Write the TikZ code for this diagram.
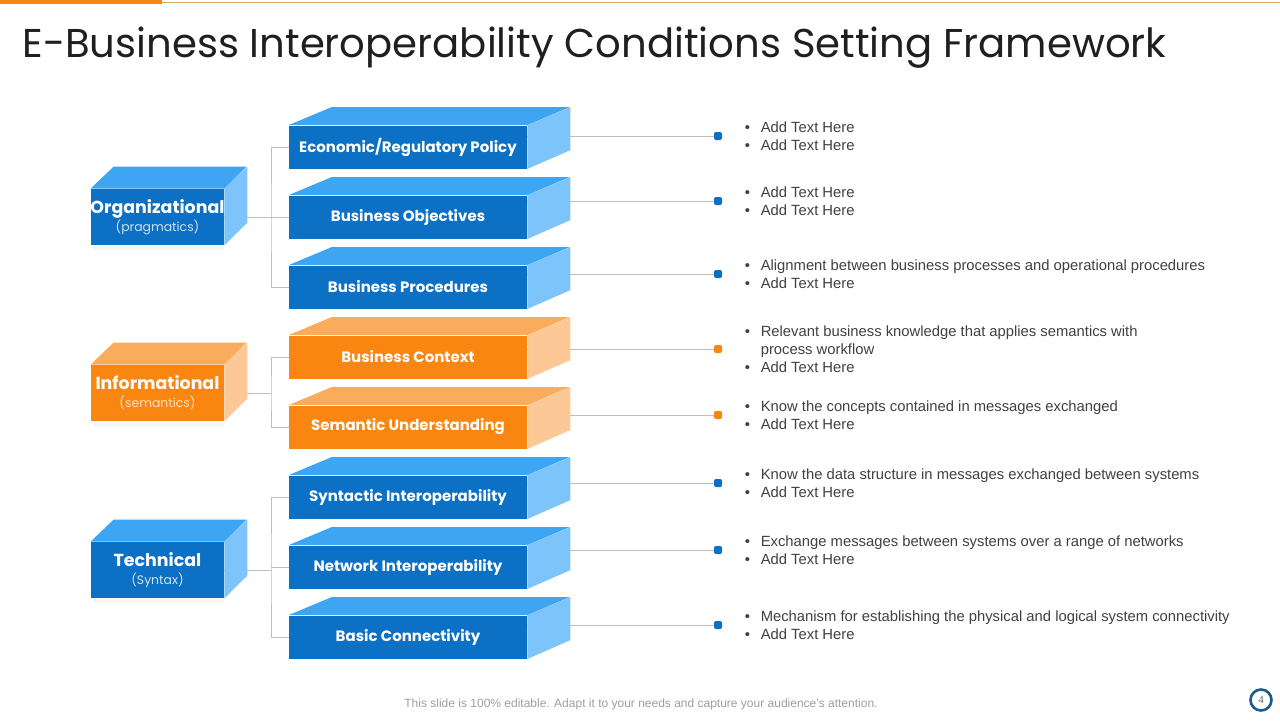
\documentclass[tikz,border=0pt]{standalone}
\usepackage{fontspec}
\setmainfont{Liberation Sans}
\newfontfamily\gothic{Poppins}
\newfontfamily\pageserif{Liberation Serif}
\usetikzlibrary{positioning}
\definecolor{bluefront}{RGB}{12,112,196}
\definecolor{bluetop}{RGB}{62,165,243}
\definecolor{blueside}{RGB}{125,196,250}
\definecolor{orangefront}{RGB}{250,134,18}
\definecolor{orangetop}{RGB}{250,172,92}
\definecolor{orangeside}{RGB}{252,200,150}
\definecolor{bodytext}{RGB}{64,64,64}
\definecolor{linegray}{RGB}{190,190,190}
\definecolor{barline}{RGB}{214,172,110}
\definecolor{pagering}{RGB}{28,92,140}

\begin{document}
\begin{tikzpicture}[x=0.5pt, y=-0.5pt,
    front/.style={minimum width=119pt, minimum height=21.5pt, inner sep=0pt,
      text=white, font=\gothic\bfseries\fontsize{7.5}{9}\selectfont},
    layer/.style={minimum width=66.5pt, minimum height=28pt, inner sep=0pt,
      text=white, align=center, font=\gothic},
    dot/.style={rounded corners=1pt, minimum size=4pt, inner sep=0pt},
    bullets/.style={anchor=west, text=bodytext, align=left, inner sep=0pt,
      font=\fontsize{7.4}{9}\selectfont},
    link/.style={draw=linegray, line width=0.5pt}]
    \useasboundingbox (0,0) rectangle (1280,720);

    % Header
    \fill[orangefront] (0,0) rectangle (162,4);
    \draw[barline, line width=0.6pt] (162,2.5) -- (1280,2.5);
    \node[anchor=base west, inner sep=0pt, text=black!88,
      font=\gothic\fontsize{20.1}{24}\selectfont] (title) at (22,57)
      {E-Business Interoperability Conditions Setting Framework};

    % Layers (front faces)
    \fill[black!4] (93,246) rectangle (224,250);
    \fill[black!4] (93,423) rectangle (224,427);
    \fill[black!4] (93,599) rectangle (224,603);
    \node[layer, fill=bluefront] (org) at (157.5,217)
      {{\bfseries\fontsize{8.7}{9}\selectfont\makebox[60pt]{Organizational}}\\[-3pt]
       {\fontsize{6.2}{7}\selectfont\color{white!80!bluefront}(pragmatics)}};
    \node[layer, fill=orangefront] (info) at (157.5,393)
      {{\bfseries\fontsize{8.7}{9}\selectfont Informational}\\[-3pt]
       {\fontsize{6.2}{7}\selectfont\color{white!75!orangefront}(semantics)}};
    \node[layer, fill=bluefront] (tech) at (157.5,570)
      {{\bfseries\fontsize{8.7}{9}\selectfont Technical}\\[-3pt]
       {\fontsize{6.2}{7}\selectfont\color{white!80!bluefront}(Syntax)}};

    % Conditions (front faces)
    \node[front, fill=bluefront] (b1) at (408,147) {Economic/Regulatory Policy};
    \node[front, fill=bluefront] (b2) at (408,217) {Business Objectives};
    \node[front, fill=bluefront] (b3) at (408,287) {Business Procedures};
    \node[front, fill=orangefront] (b4) at (408,357) {Business Context};
    \node[front, fill=orangefront] (b5) at (408,427) {Semantic Understanding};
    \node[front, fill=bluefront] (b6) at (408,497) {Syntactic Interoperability};
    \node[front, fill=bluefront] (b7) at (408,567) {Network Interoperability};
    \node[front, fill=bluefront] (b8) at (408,637) {Basic Connectivity};

    % Brackets
    \coordinate (orgjoin) at (271,217);
    \coordinate (infojoin) at (271,393);
    \coordinate (techjoin) at (271,570);
    \draw[link] (org.east) -- (orgjoin);
    \draw[link] (b1.west) -| (orgjoin) |- (b3.west);
    \draw[link] (b2.west) -- (b2.west -| orgjoin);
    \draw[link] (info.east) -- (infojoin);
    \draw[link] (b4.west) -| (infojoin) |- (b5.west);
    \draw[link] (tech.east) -- (techjoin);
    \draw[link] (b6.west) -| (techjoin) |- (b8.west);
    \draw[link] (b7.west) -- (b7.west -| techjoin);

    % Markers
    \node[dot, fill=bluefront] (d1) at (718,136) {};
    \node[dot, fill=bluefront] (d2) at (718,201) {};
    \node[dot, fill=bluefront] (d3) at (718,274) {};
    \node[dot, fill=orangefront] (d4) at (718,349) {};
    \node[dot, fill=orangefront] (d5) at (718,415) {};
    \node[dot, fill=bluefront] (d6) at (718,483) {};
    \node[dot, fill=bluefront] (d7) at (718,550) {};
    \node[dot, fill=bluefront] (d8) at (718,625) {};
    \foreach \i in {1,...,8}
      \draw[link] (d\i) -- (d\i -| b\i.east);

    % Side faces
    \foreach \b in {org,tech} {
      \fill[bluetop] (\b.north west) -- ++(23,-22) -- ++(133,0) -- (\b.north east) -- cycle;
      \fill[blueside] (\b.north east) -- ++(23,-22) -- ++(0,56) -- (\b.south east) -- cycle;
    }
    \fill[orangetop] (info.north west) -- ++(23,-22) -- ++(133,0) -- (info.north east) -- cycle;
    \fill[orangeside] (info.north east) -- ++(23,-22) -- ++(0,56) -- (info.south east) -- cycle;
    \foreach \b in {b1,b2,b3,b6,b7,b8} {
      \fill[bluetop] (\b.north west) -- ++(43,-18) -- ++(238,0) -- (\b.north east) -- cycle;
      \fill[blueside] (\b.north east) -- ++(43,-18) -- ++(0,43) -- (\b.south east) -- cycle;
    }
    \foreach \b in {b4,b5} {
      \fill[orangetop] (\b.north west) -- ++(43,-18) -- ++(238,0) -- (\b.north east) -- cycle;
      \fill[orangeside] (\b.north east) -- ++(43,-18) -- ++(0,43) -- (\b.south east) -- cycle;
    }

    % Notes
    \node[bullets, right=11pt of d1] (n1)
      {\makebox[8pt][l]{\textbullet}Add Text Here\\
       \makebox[8pt][l]{\textbullet}Add Text Here};
    \node[bullets, right=11pt of d2] (n2)
      {\makebox[8pt][l]{\textbullet}Add Text Here\\
       \makebox[8pt][l]{\textbullet}Add Text Here};
    \node[bullets, right=11pt of d3] (n3)
      {\makebox[8pt][l]{\textbullet}Alignment between business processes and operational procedures\\
       \makebox[8pt][l]{\textbullet}Add Text Here};
    \node[bullets, right=11pt of d4] (n4)
      {\makebox[8pt][l]{\textbullet}Relevant business knowledge that applies semantics with\\
       \hspace*{8pt}process workflow\\
       \makebox[8pt][l]{\textbullet}Add Text Here};
    \node[bullets, right=11pt of d5] (n5)
      {\makebox[8pt][l]{\textbullet}Know the concepts contained in messages exchanged\\
       \makebox[8pt][l]{\textbullet}Add Text Here};
    \node[bullets, right=11pt of d6] (n6)
      {\makebox[8pt][l]{\textbullet}Know the data structure in messages exchanged between systems\\
       \makebox[8pt][l]{\textbullet}Add Text Here};
    \node[bullets, right=11pt of d7] (n7)
      {\makebox[8pt][l]{\textbullet}Exchange messages between systems over a range of networks\\
       \makebox[8pt][l]{\textbullet}Add Text Here};
    \node[bullets, right=11pt of d8] (n8)
      {\makebox[8pt][l]{\textbullet}Mechanism for establishing the physical and logical system connectivity\\
       \makebox[8pt][l]{\textbullet}Add Text Here};

    % Footer
    \node[text=black!38, font=\fontsize{6}{7}\selectfont] (footer) at (641,704)
      {This slide is 100\% editable. Adapt it to your needs and capture your audience's attention.};
    \node[circle, draw=pagering, line width=1.3pt, minimum size=10.5pt, inner sep=0pt,
      text=black!60, font=\pageserif\fontsize{5.5}{6}\selectfont] (page) at (1261,700) {4};
\end{tikzpicture}
\end{document}
